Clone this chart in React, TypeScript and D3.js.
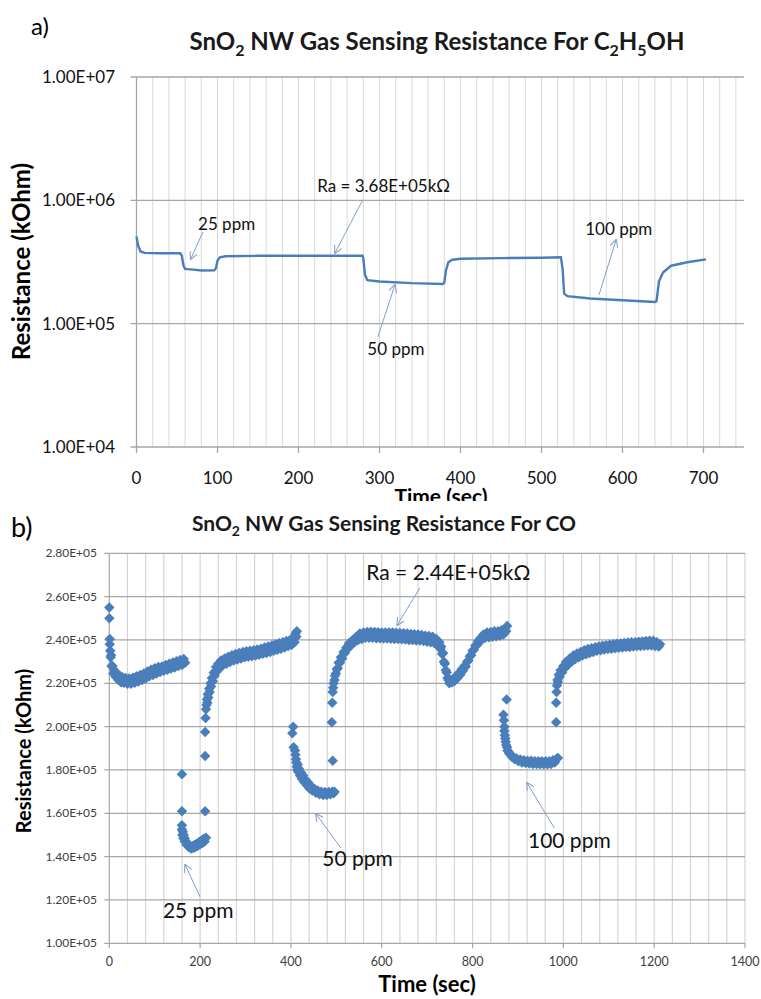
import React, { useRef, useEffect } from 'react';
import * as d3 from 'd3';

// ---- panel a : C2H5OH, continuous trace (time in sec, resistance in kOhm)
const ethTime = [0, 2, 5, 10, 30, 54, 56, 58, 60, 70, 80, 96, 98, 100, 103, 110, 150, 200, 250, 279, 280, 282, 285, 300, 340, 378, 380, 382, 385, 390, 400, 450, 500, 524, 526, 528, 532, 560, 600, 640, 642, 645, 650, 660, 680, 703];
const ethRes = [5.1e5, 4.3e5, 3.85e5, 3.75e5, 3.72e5, 3.72e5, 3.55e5, 2.95e5, 2.78e5, 2.74e5, 2.7e5, 2.71e5, 2.8e5, 3.25e5, 3.45e5, 3.52e5, 3.55e5, 3.55e5, 3.55e5, 3.55e5, 3.4e5, 2.5e5, 2.25e5, 2.2e5, 2.13e5, 2.1e5, 2.15e5, 2.7e5, 3.15e5, 3.3e5, 3.36e5, 3.4e5, 3.42e5, 3.45e5, 2.8e5, 1.75e5, 1.67e5, 1.6e5, 1.55e5, 1.5e5, 1.52e5, 2.2e5, 2.6e5, 2.95e5, 3.15e5, 3.32e5];
const ethTicksX = [0, 100, 200, 300, 400, 500, 600, 700];
const ethTicksY = [1e4, 1e5, 1e6, 1e7];
const ethTickLabels = ['1.00E+04', '1.00E+05', '1.00E+06', '1.00E+07'];

// ---- panel b : CO, scatter [sec, resistance in 1e5 kOhm]
const coBaseline = [[0, 2.55], [0, 2.5], [1, 2.405], [1, 2.38], [2, 2.35], [3, 2.32], [4, 2.33], [5, 2.28], [7, 2.28], [9, 2.245], [11, 2.26], [14, 2.23], [17, 2.245], [20, 2.215], [23, 2.235], [26, 2.205], [29, 2.228], [32, 2.203], [36, 2.225], [40, 2.198], [44, 2.222], [48, 2.198], [52, 2.226], [56, 2.203], [60, 2.232], [64, 2.208], [68, 2.238], [72, 2.215], [76, 2.245], [80, 2.222], [84, 2.255], [88, 2.232], [92, 2.262], [96, 2.238], [100, 2.27], [104, 2.245], [108, 2.275], [112, 2.252], [116, 2.278], [120, 2.258], [124, 2.285], [128, 2.262], [132, 2.29], [136, 2.268], [140, 2.296], [144, 2.273], [148, 2.302], [152, 2.28], [156, 2.308], [160, 2.285], [164, 2.312], [167, 2.295]];
const co25ppm = [[160, 1.78], [160, 1.61], [160, 1.545], [160, 1.525], [162, 1.515], [161, 1.5], [164, 1.5], [163, 1.485], [166, 1.485], [166, 1.47], [169, 1.47], [170, 1.455], [173, 1.458], [175, 1.445], [178, 1.45], [180, 1.437], [183, 1.448], [185, 1.44], [188, 1.455], [190, 1.445], [193, 1.46], [195, 1.45], [198, 1.468], [200, 1.457], [203, 1.475], [205, 1.463], [208, 1.482], [210, 1.47], [213, 1.487], [211, 1.61], [211, 1.865]];
const coRecovery1 = [[211, 1.975], [212, 2.04], [213, 2.08], [214, 2.1], [215, 2.125], [216, 2.11], [217, 2.15], [218, 2.135], [220, 2.175], [221, 2.16], [223, 2.2], [224, 2.185], [226, 2.225], [228, 2.21], [230, 2.25], [232, 2.235], [235, 2.275], [237, 2.255], [240, 2.29], [243, 2.27], [246, 2.305], [250, 2.283], [254, 2.315], [258, 2.29], [262, 2.322], [266, 2.298], [270, 2.33], [274, 2.305], [278, 2.335], [282, 2.31], [286, 2.34], [290, 2.315], [294, 2.345], [298, 2.32], [302, 2.348], [306, 2.322], [310, 2.35], [314, 2.325], [318, 2.352], [322, 2.328], [326, 2.356], [330, 2.332], [334, 2.36], [338, 2.336], [342, 2.365], [346, 2.34], [350, 2.37], [354, 2.345], [358, 2.375], [362, 2.35], [366, 2.38], [370, 2.355], [374, 2.385], [378, 2.36], [382, 2.39], [386, 2.365], [390, 2.395], [394, 2.372], [398, 2.4], [402, 2.378], [405, 2.41], [408, 2.39], [410, 2.43], [412, 2.415], [413, 2.44]];
const co50ppm = [[403, 1.97], [405, 2.0], [406, 1.905], [409, 1.89], [410, 1.87], [411, 1.85], [412, 1.835], [413, 1.815], [414, 1.8], [415, 1.825], [417, 1.79], [418, 1.805], [420, 1.775], [422, 1.79], [424, 1.76], [427, 1.775], [429, 1.745], [432, 1.755], [435, 1.73], [438, 1.742], [441, 1.715], [444, 1.725], [447, 1.705], [451, 1.715], [455, 1.695], [459, 1.705], [463, 1.688], [467, 1.7], [471, 1.685], [475, 1.698], [479, 1.685], [483, 1.698], [487, 1.688], [491, 1.7], [494, 1.692], [496, 1.7], [492, 1.843]];
const coRecovery2 = [[490, 2.02], [491, 2.11], [492, 2.16], [493, 2.18], [494, 2.2], [496, 2.215], [497, 2.235], [499, 2.245], [501, 2.265], [503, 2.27], [505, 2.295], [508, 2.295], [510, 2.32], [513, 2.315], [516, 2.345], [519, 2.34], [522, 2.365], [525, 2.36], [528, 2.385], [532, 2.375], [536, 2.4], [540, 2.39], [544, 2.415], [548, 2.4], [552, 2.43], [556, 2.405], [560, 2.435], [564, 2.41], [568, 2.437], [572, 2.41], [576, 2.438], [580, 2.41], [584, 2.437], [588, 2.408], [592, 2.436], [596, 2.408], [600, 2.435], [604, 2.407], [608, 2.435], [612, 2.407], [616, 2.434], [620, 2.406], [624, 2.434], [628, 2.405], [632, 2.433], [636, 2.404], [640, 2.432], [644, 2.403], [648, 2.431], [652, 2.402], [656, 2.43], [660, 2.4], [664, 2.428], [668, 2.4], [672, 2.426], [676, 2.398], [680, 2.425], [684, 2.397], [688, 2.423], [692, 2.395], [696, 2.42], [700, 2.392], [704, 2.418], [708, 2.39], [712, 2.415], [716, 2.385], [720, 2.405], [724, 2.375], [727, 2.39], [729, 2.36], [731, 2.37], [733, 2.335], [735, 2.34], [737, 2.3], [739, 2.29], [741, 2.26], [743, 2.25], [745, 2.225], [747, 2.215], [749, 2.2], [752, 2.215], [755, 2.205], [758, 2.222], [761, 2.212], [764, 2.232], [767, 2.225], [770, 2.248], [773, 2.24], [776, 2.265], [779, 2.258], [782, 2.28], [785, 2.278], [788, 2.3], [791, 2.305], [794, 2.325], [797, 2.33], [800, 2.35], [803, 2.355], [806, 2.375], [809, 2.375], [812, 2.395], [815, 2.39], [818, 2.41], [821, 2.405], [824, 2.425], [828, 2.41], [832, 2.435], [836, 2.413], [840, 2.437], [844, 2.415], [848, 2.44], [852, 2.417], [856, 2.44], [860, 2.42], [864, 2.445], [868, 2.425], [871, 2.45], [874, 2.44], [876, 2.465]];
const co100ppm = [[875, 2.125], [868, 2.055], [869, 2.03], [870, 2.0], [870, 1.98], [871, 1.96], [872, 1.945], [873, 1.93], [874, 1.915], [876, 1.905], [877, 1.89], [879, 1.885], [881, 1.875], [884, 1.87], [887, 1.86], [890, 1.86], [893, 1.85], [897, 1.853], [901, 1.84], [905, 1.848], [909, 1.835], [913, 1.845], [917, 1.832], [921, 1.843], [925, 1.83], [929, 1.842], [933, 1.828], [937, 1.84], [941, 1.827], [945, 1.84], [949, 1.826], [953, 1.84], [957, 1.826], [961, 1.84], [965, 1.826], [969, 1.84], [973, 1.828], [977, 1.845], [981, 1.835], [985, 1.852], [988, 1.855]];
const coRecovery3 = [[984, 2.02], [984, 2.11], [985, 2.16], [986, 2.19], [987, 2.215], [988, 2.205], [990, 2.24], [992, 2.23], [994, 2.26], [997, 2.25], [1000, 2.28], [1003, 2.27], [1006, 2.3], [1010, 2.285], [1014, 2.315], [1018, 2.3], [1022, 2.328], [1026, 2.312], [1030, 2.338], [1034, 2.32], [1038, 2.345], [1042, 2.328], [1046, 2.352], [1050, 2.334], [1054, 2.358], [1058, 2.34], [1062, 2.362], [1066, 2.345], [1070, 2.366], [1074, 2.35], [1078, 2.37], [1082, 2.353], [1086, 2.373], [1090, 2.356], [1094, 2.376], [1098, 2.358], [1102, 2.378], [1106, 2.36], [1110, 2.38], [1114, 2.362], [1118, 2.382], [1122, 2.364], [1126, 2.384], [1130, 2.365], [1134, 2.386], [1138, 2.367], [1142, 2.388], [1146, 2.368], [1150, 2.39], [1154, 2.37], [1158, 2.39], [1162, 2.372], [1166, 2.392], [1170, 2.372], [1174, 2.393], [1178, 2.373], [1182, 2.395], [1186, 2.374], [1190, 2.396], [1194, 2.374], [1198, 2.396], [1202, 2.372], [1206, 2.39], [1210, 2.37], [1213, 2.38]];
const coTicksX = [0, 200, 400, 600, 800, 1000, 1200, 1400];
const coTicksY = [1.0, 1.2, 1.4, 1.6, 1.8, 2.0, 2.2, 2.4, 2.6, 2.8];
const coTickLabels = ['1.00E+05', '1.20E+05', '1.40E+05', '1.60E+05', '1.80E+05', '2.00E+05', '2.20E+05', '2.40E+05', '2.60E+05', '2.80E+05'];

// annotations: label, text anchor [t, R], arrow from [t, R] to [t, R]
const ethNotes = [
  { label: '25 ppm', at: [76, 5.75e5], from: [82, 5.54e5], to: [67, 3.35e5] },
  { label: 'Ra = 3.68E+05kΩ', at: [223, 1.17e6], from: [279, 1.0e6], to: [245, 3.74e5] },
  { label: '50 ppm', at: [285, 5.57e4], from: [298, 7.8e4], to: [319, 2.06e5] },
  { label: '100 ppm', at: [554, 5.24e5], from: [571, 1.71e5], to: [592, 4.77e5] },
];
const coNotes = [
  { label: 'Ra = 2.44E+05kΩ', at: [566, 2.677], from: [684, 2.64], to: [634, 2.469] },
  { label: '25 ppm', at: [118, 1.117], from: [200, 1.214], to: [167, 1.362] },
  { label: '50 ppm', at: [469, 1.357], from: [510, 1.44], to: [455, 1.597] },
  { label: '100 ppm', at: [922, 1.44], from: [980, 1.532], to: [920, 1.74] },
];

const BLUE = '#4a7ebb';
const ARROW = '#7f9fcf';
const FONT = 'Lato, "Open Sans", sans-serif';

const App = () => {
  const svgRef = useRef(null);

  useEffect(() => {
    const svg = d3.select(svgRef.current);
    svg.selectAll('*').remove();

    const defs = svg.append('defs');
    defs.append('marker')
      .attr('id', 'arr')
      .attr('viewBox', '0 0 10 10')
      .attr('refX', 9).attr('refY', 5)
      .attr('markerWidth', 8).attr('markerHeight', 8)
      .attr('markerUnits', 'userSpaceOnUse')
      .attr('orient', 'auto')
      .append('path')
      .attr('d', 'M0,0L10,5L0,10')
      .attr('fill', 'none')
      .attr('stroke', ARROW)
      .attr('stroke-width', 1.3);

    defs.append('clipPath').attr('id', 'clipA')
      .append('rect').attr('x', 0).attr('y', 0).attr('width', 761).attr('height', 501);

    const notes = (g, list, x, y, size) => {
      list.forEach(n => {
        g.append('line')
          .attr('x1', x(n.from[0])).attr('y1', y(n.from[1]))
          .attr('x2', x(n.to[0])).attr('y2', y(n.to[1]))
          .attr('stroke', ARROW).attr('stroke-width', 1)
          .attr('marker-end', 'url(#arr)');
        g.append('text')
          .attr('x', x(n.at[0])).attr('y', y(n.at[1]))
          .attr('font-size', size).attr('fill', '#111')
          .text(n.label);
      });
    };

    // ================= panel a =================
    const a = svg.append('g').attr('clip-path', 'url(#clipA)').attr('font-family', FONT);
    const xA = d3.scaleLinear().domain([0, 750]).range([136.5, 744]);
    const yA = d3.scaleLog().domain([1e4, 1e7]).range([447, 77]);

    a.append('text').attr('x', 31).attr('y', 35).attr('font-size', 24).text('a)');
    const tA = a.append('text').attr('x', 437).attr('y', 50)
      .attr('text-anchor', 'middle').attr('font-size', 24).attr('font-weight', 'bold').attr('fill', '#1a1a1a');
    tA.append('tspan').text('SnO');
    tA.append('tspan').attr('dy', 6).attr('font-size', 16).text('2');
    tA.append('tspan').attr('dy', -6).text(' NW Gas Sensing Resistance For C');
    tA.append('tspan').attr('dy', 6).attr('font-size', 16).text('2');
    tA.append('tspan').attr('dy', -6).text('H');
    tA.append('tspan').attr('dy', 6).attr('font-size', 16).text('5');
    tA.append('tspan').attr('dy', -6).text('OH');

    a.append('g').selectAll('line')
      .data(d3.range(20, 750, 20))
      .join('line')
      .attr('x1', d => xA(d)).attr('x2', d => xA(d))
      .attr('y1', yA(1e7)).attr('y2', yA(1e4))
      .attr('stroke', '#d9d9d9').attr('stroke-width', 1);

    a.append('g').selectAll('line')
      .data(ethTicksY)
      .join('line')
      .attr('x1', xA(0) - 6).attr('x2', xA(750))
      .attr('y1', d => yA(d)).attr('y2', d => yA(d))
      .attr('stroke', '#a6a6a6').attr('stroke-width', 1.3);

    a.append('line')
      .attr('x1', xA(0)).attr('x2', xA(0)).attr('y1', yA(1e7)).attr('y2', yA(1e4))
      .attr('stroke', '#a6a6a6').attr('stroke-width', 1.3);

    a.append('g').selectAll('line')
      .data(ethTicksX)
      .join('line')
      .attr('x1', d => xA(d)).attr('x2', d => xA(d))
      .attr('y1', yA(1e4)).attr('y2', yA(1e4) + 6)
      .attr('stroke', '#a6a6a6').attr('stroke-width', 1.3);

    a.append('g').selectAll('text')
      .data(ethTicksY)
      .join('text')
      .attr('x', 115).attr('y', d => yA(d) + 6)
      .attr('text-anchor', 'end').attr('font-size', 17).attr('fill', '#111')
      .text((d, i) => ethTickLabels[i]);

    a.append('g').selectAll('text')
      .data(ethTicksX)
      .join('text')
      .attr('x', d => xA(d)).attr('y', 484)
      .attr('text-anchor', 'middle').attr('font-size', 17).attr('fill', '#111')
      .text(d => d);

    a.append('text').attr('x', 441).attr('y', 504)
      .attr('text-anchor', 'middle').attr('font-size', 21).attr('font-weight', 'bold')
      .text('Time (sec)');

    a.append('text')
      .attr('transform', `translate(30,261.5) rotate(-90)`)
      .attr('text-anchor', 'middle').attr('font-size', 24).attr('font-weight', 'bold')
      .text('Resistance (kOhm)');

    const lineA = d3.line().x(d => xA(d[0])).y(d => yA(d[1]));
    a.append('path')
      .datum(ethTime.map((t, i) => [t, ethRes[i]]))
      .attr('fill', 'none').attr('stroke', BLUE).attr('stroke-width', 2.4)
      .attr('d', lineA);

    notes(a, ethNotes, xA, yA, 17);

    // ================= panel b =================
    const b = svg.append('g').attr('font-family', FONT);
    const xB = d3.scaleLinear().domain([0, 1400]).range([109.3, 745]);
    const yB = d3.scaleLinear().domain([1.0, 2.8]).range([943.3, 553.3]);

    b.append('text').attr('x', 11).attr('y', 537).attr('font-size', 27).text('b)');
    const tB = b.append('text').attr('x', 384).attr('y', 530.5)
      .attr('text-anchor', 'middle').attr('font-size', 21).attr('font-weight', 'bold').attr('fill', '#1a1a1a');
    tB.append('tspan').text('SnO');
    tB.append('tspan').attr('dy', 5).attr('font-size', 14).text('2');
    tB.append('tspan').attr('dy', -5).text(' NW Gas Sensing Resistance For CO');

    b.append('g').selectAll('line')
      .data(d3.range(40, 1401, 40))
      .join('line')
      .attr('x1', d => xB(d)).attr('x2', d => xB(d))
      .attr('y1', yB(2.8)).attr('y2', yB(1.0))
      .attr('stroke', '#d4d4d4').attr('stroke-width', 1.2);

    b.append('g').selectAll('line')
      .data(coTicksY)
      .join('line')
      .attr('x1', xB(0) - 5).attr('x2', xB(1400))
      .attr('y1', d => yB(d)).attr('y2', d => yB(d))
      .attr('stroke', '#a6a6a6').attr('stroke-width', 1.2);

    b.append('line')
      .attr('x1', xB(0)).attr('x2', xB(0)).attr('y1', yB(2.8)).attr('y2', yB(1.0))
      .attr('stroke', '#a6a6a6').attr('stroke-width', 1.2);

    b.append('g').selectAll('line')
      .data(coTicksX)
      .join('line')
      .attr('x1', d => xB(d)).attr('x2', d => xB(d))
      .attr('y1', yB(1.0)).attr('y2', yB(1.0) + 5)
      .attr('stroke', '#a6a6a6').attr('stroke-width', 1.2);

    b.append('g').selectAll('text')
      .data(coTicksY)
      .join('text')
      .attr('x', 97).attr('y', d => yB(d) + 4)
      .attr('text-anchor', 'end').attr('font-size', 12).attr('fill', '#404040')
      .text((d, i) => coTickLabels[i]);

    b.append('g').selectAll('text')
      .data(coTicksX)
      .join('text')
      .attr('x', d => xB(d)).attr('y', 966)
      .attr('text-anchor', 'middle').attr('font-size', 12.5).attr('fill', '#404040')
      .text(d => d);

    b.append('text').attr('x', 427).attr('y', 992)
      .attr('text-anchor', 'middle').attr('font-size', 22).attr('font-weight', 'bold')
      .text('Time (sec)');

    b.append('text')
      .attr('transform', `translate(31,751) rotate(-90)`)
      .attr('text-anchor', 'middle').attr('font-size', 20).attr('font-weight', 'bold')
      .text('Resistance (kOhm)');

    const coAll = [...coBaseline, ...co25ppm, ...coRecovery1, ...co50ppm, ...coRecovery2, ...co100ppm, ...coRecovery3];
    const diamond = d3.symbol(d3.symbolSquare, 55);
    b.append('g').selectAll('path')
      .data(coAll)
      .join('path')
      .attr('transform', d => `translate(${xB(d[0])},${yB(d[1])}) rotate(45)`)
      .attr('d', diamond)
      .attr('fill', BLUE);

    notes(b, coNotes, xB, yB, 21);
  }, []);

  return (
    <div style={{ position: 'absolute', left: 0, top: 0 }}>
      <svg ref={svgRef} width={761} height={999} style={{ display: 'block', background: '#fff' }} />
    </div>
  );
};

export default App;
